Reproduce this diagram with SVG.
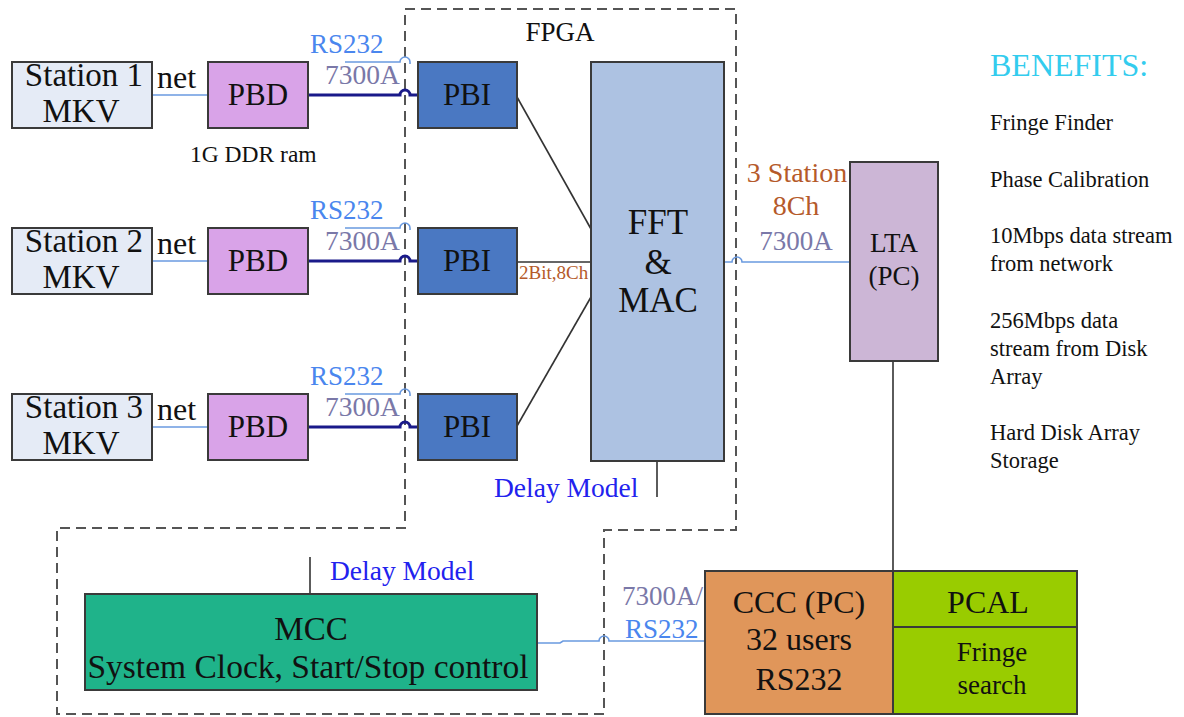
<svg xmlns="http://www.w3.org/2000/svg" width="1184" height="717" viewBox="0 0 1184 717" font-family="'Liberation Serif', 'DejaVu Serif', serif">
  <style>
    text { font-family: 'Liberation Serif', 'DejaVu Serif', serif; fill: #111; }
    .mid { text-anchor: middle; }
    .box { stroke: #3a3a3a; stroke-width: 2; }
    .station { fill: #e5ebf6; }
    .pbd { fill: #d9a3e8; }
    .pbi { fill: #4a78c2; }
    .fft { fill: #adc2e2; }
    .lta { fill: #ccb6d6; }
    .ccc { fill: #e0965a; }
    .pcal { fill: #99cc00; }
    .mcc { fill: #1fb38a; }
    .dash { fill: none; stroke: #555; stroke-width: 2; stroke-dasharray: 10 6; }
    .lan { fill: none; stroke: #6a9ae0; stroke-width: 1.6; }
    .bus { fill: none; stroke: #1a1a8a; stroke-width: 3; }
    .wire { fill: none; stroke: #333; stroke-width: 1.6; }
    .rs { fill: #4a86ee; }
    .model { fill: #7a78a8; }
    .brown { fill: #b55a2a; }
    .delay { fill: #2222ee; }
    .benefit { font-size: 22.5px; }
  </style>

  <!-- FPGA boundary and MCC enclosure -->
  <path class="dash" d="M405 9 H736 V530 H604 V714 H57 V528 H405 Z"/>
  <text class="mid" x="560" y="41" font-size="27">FPGA</text>

  <!-- connectors -->
  <g id="connectors">
    <!-- station rows: net link, PBD-PBI bus, RS232 stub -->
    <g id="row-links-1">
      <path class="lan" d="M152 95 H208"/>
      <path class="bus" d="M308 95 H400 A5 5 0 0 1 410 95 H418"/>
      <path class="lan" d="M345 62 H400 A5 5 0 0 1 410 62 V64"/>
    </g>
    <g id="row-links-2" transform="translate(0,166)">
      <path class="lan" d="M152 95 H208"/>
      <path class="bus" d="M308 95 H400 A5 5 0 0 1 410 95 H418"/>
      <path class="lan" d="M345 62 H400 A5 5 0 0 1 410 62 V64"/>
    </g>
    <g id="row-links-3" transform="translate(0,332)">
      <path class="lan" d="M152 95 H208"/>
      <path class="bus" d="M308 95 H400 A5 5 0 0 1 410 95 H418"/>
      <path class="lan" d="M345 62 H400 A5 5 0 0 1 410 62 V64"/>
    </g>
    <!-- PBI to FFT -->
    <path class="wire" d="M517 97 L591 229"/>
    <path class="wire" d="M517 262 H591"/>
    <path class="wire" d="M517 426 L591 297"/>
    <!-- FFT to LTA -->
    <path class="lan" d="M718 262 H732 A5 5 0 0 1 742 262 H850"/>
    <!-- LTA to CCC -->
    <path class="wire" d="M893 361 V571"/>
    <!-- delay model ticks -->
    <path class="wire" d="M657 461 V497"/>
    <path class="wire" d="M310 557 V594"/>
    <!-- MCC to CCC -->
    <path class="lan" d="M537 643 H560 L563 641 H599 A5 5 0 0 1 609 641 H705"/>
  </g>

  <!-- link labels -->
  <g id="labels">
    <text class="rs" x="310" y="53" font-size="27">RS232</text>
    <text class="model" x="325" y="84" font-size="27.5">7300A</text>
    <text class="rs" x="310" y="219" font-size="27">RS232</text>
    <text class="model" x="325" y="250" font-size="27.5">7300A</text>
    <text class="rs" x="310" y="385" font-size="27">RS232</text>
    <text class="model" x="325" y="416" font-size="27.5">7300A</text>
    <text x="190" y="162" font-size="23.5">1G DDR ram</text>
    <text class="brown" x="519" y="279" font-size="19">2Bit,8Ch</text>
    <text class="brown mid" x="797" y="182" font-size="28">3 Station</text>
    <text class="brown mid" x="796" y="215" font-size="28">8Ch</text>
    <text class="model mid" x="796" y="250" font-size="27">7300A</text>
    <text class="delay" x="494" y="497" font-size="27.5">Delay Model</text>
    <text class="delay" x="330" y="580" font-size="27.5">Delay Model</text>
    <text class="model" x="622" y="605" font-size="27">7300A/</text>
    <text class="rs" x="625" y="638" font-size="27">RS232</text>
  </g>

  <!-- station nodes -->
  <g id="station1">
    <rect class="box station" x="12" y="62" width="140" height="66"/>
    <text class="mid" x="84" y="86" font-size="33">Station 1</text>
    <text class="mid" x="81" y="122" font-size="33">MKV</text>
  </g>
  <g id="station2">
    <rect class="box station" x="12" y="228" width="140" height="66"/>
    <text class="mid" x="84" y="252" font-size="33">Station 2</text>
    <text class="mid" x="81" y="288" font-size="33">MKV</text>
  </g>
  <g id="station3">
    <rect class="box station" x="12" y="394" width="140" height="66"/>
    <text class="mid" x="84" y="418" font-size="33">Station 3</text>
    <text class="mid" x="81" y="454" font-size="33">MKV</text>
  </g>
  <text x="157" y="88" font-size="32">net</text>
  <text x="157" y="254" font-size="32">net</text>
  <text x="157" y="420" font-size="32">net</text>

  <!-- playback drives -->
  <g id="pbd1">
    <rect class="box pbd" x="208" y="62" width="100" height="66"/>
    <text class="mid" x="258" y="105" font-size="31">PBD</text>
  </g>
  <g id="pbd2">
    <rect class="box pbd" x="208" y="228" width="100" height="66"/>
    <text class="mid" x="258" y="271" font-size="31">PBD</text>
  </g>
  <g id="pbd3">
    <rect class="box pbd" x="208" y="394" width="100" height="66"/>
    <text class="mid" x="258" y="437" font-size="31">PBD</text>
  </g>

  <!-- playback interfaces -->
  <g id="pbi1">
    <rect class="box pbi" x="418" y="62" width="99" height="66"/>
    <text class="mid" x="467" y="105" font-size="31">PBI</text>
  </g>
  <g id="pbi2">
    <rect class="box pbi" x="418" y="228" width="99" height="66"/>
    <text class="mid" x="467" y="271" font-size="31">PBI</text>
  </g>
  <g id="pbi3">
    <rect class="box pbi" x="418" y="394" width="99" height="66"/>
    <text class="mid" x="467" y="437" font-size="31">PBI</text>
  </g>

  <!-- correlator core -->
  <g id="fft-mac">
    <rect class="box fft" x="591" y="62" width="133" height="399"/>
    <text class="mid" x="658" y="234" font-size="35">FFT</text>
    <text class="mid" x="658" y="274" font-size="35">&amp;</text>
    <text class="mid" x="658" y="312" font-size="35">MAC</text>
  </g>

  <g id="lta">
    <rect class="box lta" x="850" y="162" width="88" height="199"/>
    <text class="mid" x="894" y="252" font-size="27">LTA</text>
    <text class="mid" x="894" y="285" font-size="27">(PC)</text>
  </g>

  <g id="ccc">
    <rect class="box ccc" x="705" y="571" width="188" height="143"/>
    <text class="mid" x="799" y="613" font-size="32">CCC (PC)</text>
    <text class="mid" x="799" y="650" font-size="32">32 users</text>
    <text class="mid" x="799" y="690" font-size="32">RS232</text>
  </g>

  <g id="pcal">
    <rect class="box pcal" x="893" y="571" width="184" height="143"/>
    <line class="box" x1="893" y1="627" x2="1077" y2="627"/>
    <text class="mid" x="988" y="613" font-size="32">PCAL</text>
    <text class="mid" x="992" y="661" font-size="27">Fringe</text>
    <text class="mid" x="992" y="694" font-size="27">search</text>
  </g>

  <g id="mcc">
    <rect class="box mcc" x="85" y="594" width="452" height="96"/>
    <text class="mid" x="311" y="640" font-size="33">MCC</text>
    <text class="mid" x="308" y="678" font-size="33.5">System Clock, Start/Stop control</text>
  </g>

  <!-- benefits list -->
  <g id="benefits">
    <text x="990" y="76" font-size="32" style="fill:#33ccee">BENEFITS:</text>
    <text class="benefit" x="990" y="130">Fringe Finder</text>
    <text class="benefit" x="990" y="187">Phase Calibration</text>
    <text class="benefit" x="990" y="243">10Mbps data stream</text>
    <text class="benefit" x="990" y="271">from network</text>
    <text class="benefit" x="990" y="328">256Mbps data</text>
    <text class="benefit" x="990" y="356">stream from Disk</text>
    <text class="benefit" x="990" y="384">Array</text>
    <text class="benefit" x="990" y="440">Hard Disk Array</text>
    <text class="benefit" x="990" y="468">Storage</text>
  </g>
</svg>
